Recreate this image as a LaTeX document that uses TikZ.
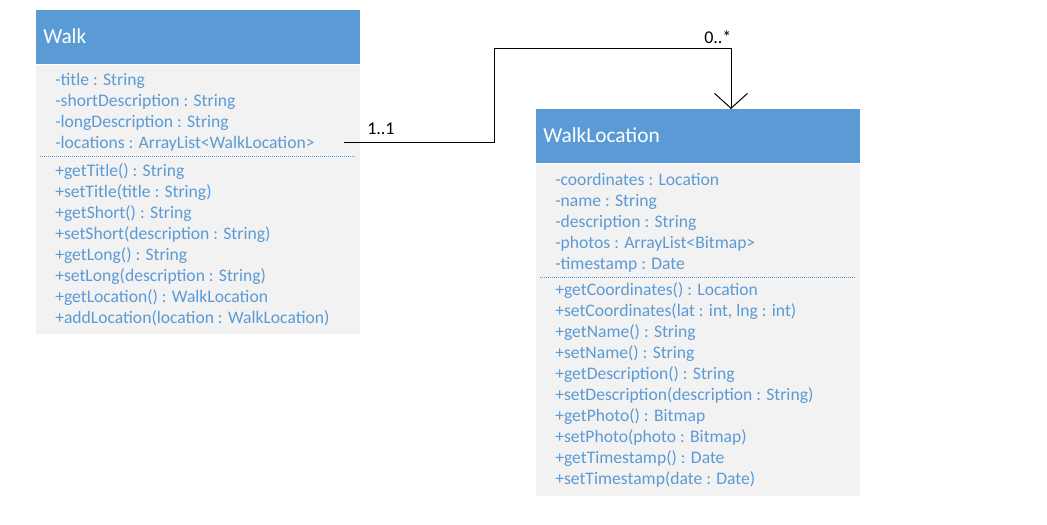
\documentclass[tikz,border=0pt]{standalone}
\usepackage{fontspec}
\setmainfont{Carlito}
\usetikzlibrary{arrows.meta}
\usetikzlibrary{positioning}
\definecolor{umlblue}{RGB}{91,155,213}
\definecolor{umlgrey}{RGB}{242,242,242}

\begin{document}
\begin{tikzpicture}[x=0.75pt, y=-0.75pt,
    classhead/.style={fill=umlblue, minimum width=243pt, minimum height=40.5pt, inner sep=0pt, anchor=north west},
    classbody/.style={fill=umlgrey, minimum width=243pt, inner sep=0pt, anchor=north west},
    classname/.style={text=white, font=\fontsize{16}{19}\selectfont, inner sep=0pt, anchor=base west},
    member/.style={text=umlblue, font=\fontsize{13.2}{15}\selectfont, inner sep=0pt, anchor=base west},
    sepline/.style={umlblue, line width=0.75pt, dash pattern=on 0.75pt off 0.75pt},
    mult/.style={font=\fontsize{13.5}{15}\selectfont, inner sep=0pt, anchor=base west}]
    \useasboundingbox (0, 0) rectangle (1047, 525);

    % Walk
    \node [classhead] (walk) at (36, 10) {};
    \node [classbody, minimum height=201.75pt] (walk body) at (walk.south west) {};
    \node [classname] (walk name) at (43, 43) {Walk};
    \foreach \t [count=\i from 0] in {-title : String, -shortDescription : String,
        -longDescription : String, -locations : ArrayList<WalkLocation>} {
      \node [member] (walk attr \i) at (55, 85 + 21*\i) {\t};
    }
    \draw [sepline] (40, 156) -- (355, 156);
    \foreach \t [count=\i from 0] in {+getTitle() : String, +setTitle(title : String),
        +getShort() : String, +setShort(description : String), +getLong() : String,
        +setLong(description : String), +getLocation() : WalkLocation,
        +addLocation(location : WalkLocation)} {
      \node [member] (walk op \i) at (55, 176 + 21*\i) {\t};
    }

    % WalkLocation
    \node [classhead] (loc) at (536, 109) {};
    \node [classbody, minimum height=249pt] (loc body) at (loc.south west) {};
    \node [classname] (loc name) at (543, 142) {WalkLocation};
    \foreach \t [count=\i from 0] in {-coordinates : Location, -name : String,
        -description : String, -photos : ArrayList<Bitmap>, -timestamp : Date} {
      \node [member] (loc attr \i) at (555, 185 + 21*\i) {\t};
    }
    \draw [sepline] (540, 277) -- (855, 277);
    \foreach \t [count=\i from 0] in {+getCoordinates() : Location,
        {+setCoordinates(lat : int, lng : int)}, +getName() : String,
        +setName() : String, +getDescription() : String,
        +setDescription(description : String), +getPhoto() : Bitmap,
        +setPhoto(photo : Bitmap), +getTimestamp() : Date,
        +setTimestamp(date : Date)} {
      \node [member] (loc op \i) at (555, 295 + 21*\i) {\t};
    }

    % association
    \coordinate (walk end) at (344, 142);
    \coordinate (bend) at (494, 48);
    \coordinate (loc end) at (731, 109);
    \draw [line width=0.75pt, -{Straight Barb[length=11.25pt, width=24.75pt]}] (walk end) -| (bend) -| (loc end);
    \node [mult] (walk mult) at (367, 134) {1..1};
    \node [mult] (loc mult) at (704, 43) {0..*};
  \end{tikzpicture}
\end{document}
